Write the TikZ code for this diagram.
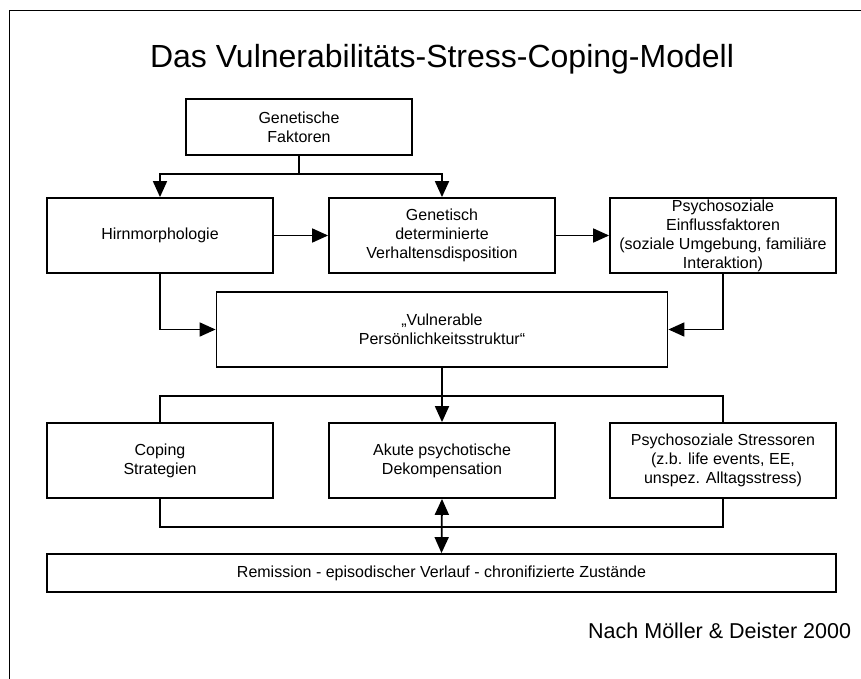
\documentclass[tikz,border=0pt]{standalone}
\usepackage{fontspec}
\setmainfont{Liberation Sans}
\usetikzlibrary{arrows.meta}
\begin{document}
\begin{tikzpicture}[x=1pt,y=-1pt,
  line width=1.8pt,
  boxs/.style={draw, line width=1.8pt, minimum width=226pt, minimum height=75pt, inner sep=0pt, align=center, font=\fontsize{16}{19}\selectfont},
  arr/.style={-{Triangle[length=16pt,width=14pt]}},
  darr/.style={{Triangle[length=16pt,width=14pt]}-{Triangle[length=16pt,width=14pt]}}]
\useasboundingbox (0,0) rectangle (861,679);
\draw (9.5,679) -- (9.5,10.5) -- (861,10.5);
\node[font=\fontsize{32}{36}\selectfont, inner sep=0pt, anchor=base] (title) at (442,68) {Das Vulnerabilitäts-Stress-Coping-Modell};
\node[boxs, minimum height=56pt] (gen) at (299,127) {Genetische\\Faktoren};
\node[boxs] (hirn) at (160,235.5) {Hirnmorphologie};
\node[boxs] (gdv) at (442,235.5) {Genetisch\\determinierte\\Verhaltensdisposition};
\node[boxs] (psy) at (723,235.5) {Psychosoziale\\Einflussfaktoren\\(soziale Umgebung, familiäre\\Interaktion)};
\node[boxs, minimum width=451pt] (vul) at (442,329.5) {„Vulnerable\\Persönlichkeitsstruktur“};
\node[boxs] (cop) at (160,460.5) {Coping\\Strategien};
\node[boxs] (aku) at (442,460.5) {Akute psychotische\\Dekompensation};
\node[boxs] (str) at (723,460.5) {Psychosoziale Stressoren\\(z.b. life events, EE,\\unspez. Alltagsstress)};
\node[boxs, minimum width=789pt, minimum height=38pt] (rem) at (441.5,573) {Remission - episodischer Verlauf - chronifizierte Zustände};
\node[font=\fontsize{21.5}{26}\selectfont, anchor=base east, inner sep=0pt] (src) at (852,638) {Nach Möller \& Deister 2000};
\coordinate (j1) at (299,174);
\draw (gen.south) -- (j1);
\draw[arr] (j1) -| (hirn.north);
\draw[arr] (j1) -| (gdv.north);
\draw[arr] (hirn) -- (gdv);
\draw[arr] (gdv) -- (psy);
\draw[arr] (hirn.south) |- (vul.west);
\draw[arr] (psy.south) |- (vul.east);
\draw[arr] (vul.south) -- (aku.north);
\coordinate (t) at (442,396);
\coordinate (b) at (442,527);
\draw (cop.north) |- (t) -| (str.north);
\draw (cop.south) |- (b) -| (str.south);
\draw[darr] (aku.south) -- (rem.north);
\end{tikzpicture}
\end{document}
